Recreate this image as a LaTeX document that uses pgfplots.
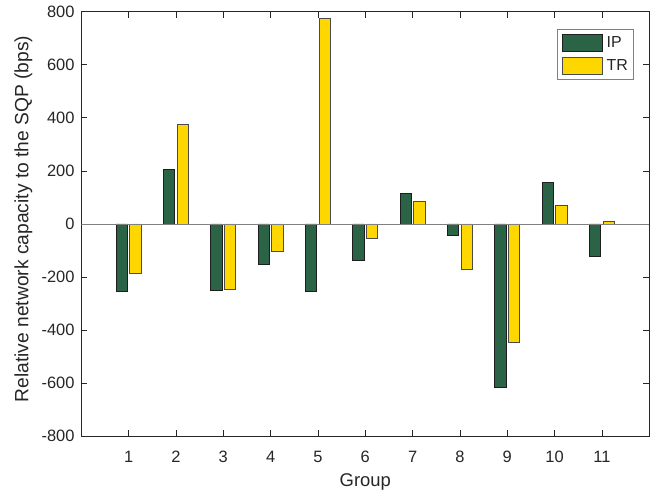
\documentclass[border=0pt]{standalone}
\usepackage{pgfplots}
\pgfplotsset{compat=1.18}
\usepackage{fontspec}
\setmainfont{Liberation Sans}
\definecolor{ipgreen}{RGB}{43,99,71}
\definecolor{trgold}{RGB}{255,215,0}
\definecolor{axcol}{RGB}{38,38,38}
\definecolor{edgecol}{RGB}{30,30,30}
\begin{document}
\begin{tikzpicture}
\path[use as bounding box] (-81.3bp,-56.7bp) rectangle (573.7bp,436.3bp);
\begin{axis}[
  scale only axis,
  width=568bp, height=424.6bp,
  xmin=0, xmax=12, ymin=-800, ymax=800,
  xtick={1,2,3,4,5,6,7,8,9,10,11},
  ytick={-800,-600,-400,-200,0,200,400,600,800},
  tick align=inside,
  xtick pos=both, ytick pos=both,
  xticklabel pos=lower, yticklabel pos=left,
  major tick length=6bp,
  axis line style={axcol, line width=0.75bp},
  tick style={axcol, line width=0.75bp},
  /pgf/number format/assume math mode=true,
  /pgf/number format/1000 sep={},
  ticklabel style={font=\fontsize{16.5}{19.8}\selectfont, text=axcol},
  xticklabel style={yshift=-11.5bp},
  yticklabel style={xshift=-3.3bp},
  label style={text=axcol},
  xlabel={Group},
  ylabel={Relative network capacity to the SQP (bps)},
  xlabel style={font=\fontsize{18.5}{22}\selectfont, at={(axis description cs:0.5,-0.1175)}, anchor=base},
  ylabel style={font=\fontsize{19.3}{23}\selectfont, at={(axis description cs:-0.0933,0.512)}, anchor=base},
  legend style={at={(axis description cs:0.838,0.9586)}, anchor=north west,
    draw=black!50, line width=0.75bp, inner sep=4.5bp, row sep=5.6bp, column sep=3bp,
    font=\fontsize{16}{19}\selectfont, text=axcol,
    nodes={inner sep=0.8bp}},
  legend cell align=left,
  legend image code/.code={\draw[#1, line width=0.75bp] (0bp,-8.35bp) rectangle (40bp,8.35bp);},
]
\addplot[ybar, bar width=0.24, bar shift=-0.145, fill=ipgreen, draw=edgecol, line width=0.75bp]
  coordinates {(1,-254) (2,206) (3,-249) (4,-151) (5,-253) (6,-137) (7,116) (8,-41) (9,-614) (10,158) (11,-123)};
\addlegendentry{IP}
\addplot[ybar, bar width=0.24, bar shift=0.145, fill=trgold, draw=edgecol!80, line width=0.75bp]
  coordinates {(1,-187) (2,375) (3,-247) (4,-104) (5,775) (6,-55) (7,85) (8,-170) (9,-447) (10,70) (11,10)};
\addlegendentry{TR}
\addplot[forget plot, black!50, line width=0.75bp] coordinates {(0,0) (12,0)};
\end{axis}
\end{tikzpicture}
\end{document}
